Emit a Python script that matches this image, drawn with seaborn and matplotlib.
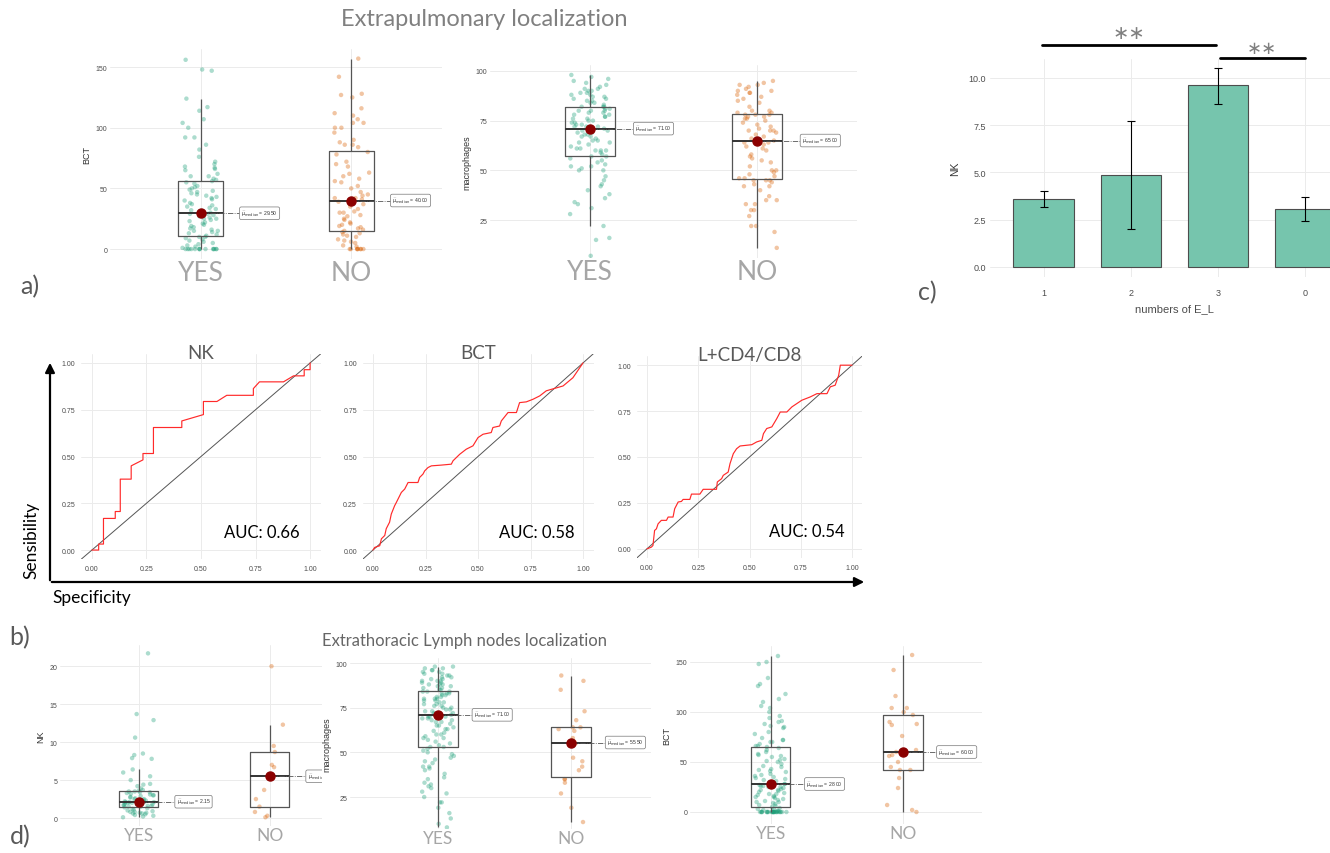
import numpy as np
import pandas as pd
import matplotlib
matplotlib.use("Agg")
import matplotlib.pyplot as plt
import seaborn as sns

# ---------------- data ----------------
# a) Extrapulmonary localization
bct_extra_yes = [0, 0, 0, 0, 0, 0, 0, 0, 0, 0, 0, 0, 0, 0, 1, 2, 3, 4, 5, 6, 7, 8, 9, 10, 10,
                 11, 12, 13, 14, 15, 15, 16, 17, 18, 19, 20, 21, 22, 23, 24, 25, 25, 26, 27, 28, 28, 29, 29, 29, 29,
                 30, 31, 32, 33, 34, 35, 36, 37, 38, 40, 41, 42, 43, 44, 45, 46, 47, 48, 49, 50, 51, 52, 54, 55, 56,
                 57, 58, 60, 60, 62, 65, 66, 67, 68, 70, 72, 76, 82, 86, 92, 92, 100, 104, 107, 114, 117, 124, 147, 148, 156]
bct_extra_no = [0, 0, 0, 0, 0, 0, 0, 0, 2, 3, 5, 6, 7, 8, 10, 11, 12, 13, 14,
                15, 16, 17, 18, 19, 20, 21, 22, 24, 25, 27, 28, 30, 30, 31, 33, 35, 37, 39,
                41, 42, 42, 44, 45, 47, 50, 52, 55, 56, 58, 60, 62, 63, 68, 70, 72, 78, 80,
                84, 86, 86, 88, 90, 96, 100, 100, 104, 104, 107, 110, 112, 116, 125, 127, 128, 142, 157]
mac_extra_yes = [7, 15, 16, 22, 28, 31, 33, 34, 36, 38, 40, 42, 43, 45, 47, 50, 50, 51, 52, 52, 53, 54, 55, 56, 57,
                 57, 58, 59, 60, 60, 60, 61, 61, 62, 63, 64, 64, 65, 65, 66, 67, 67, 68, 68, 69, 69, 70, 70, 70, 71,
                 71, 72, 72, 72, 73, 73, 74, 74, 75, 75, 76, 76, 77, 77, 78, 78, 79, 79, 80, 80, 80, 81, 81, 82, 82,
                 82, 83, 84, 84, 85, 85, 86, 86, 87, 87, 88, 88, 89, 89, 90, 90, 91, 91, 92, 93, 94, 95, 96, 97, 98]
mac_extra_no = [11, 19, 22, 22, 27, 30, 30, 33, 33, 35, 35, 37, 40, 42, 42, 43, 44, 45, 45, 45,
                46, 46, 47, 48, 49, 50, 50, 52, 54, 55, 56, 57, 58, 60, 61, 62, 63, 64, 64, 65,
                65, 66, 67, 68, 69, 70, 70, 70, 71, 72, 73, 74, 75, 76, 76, 77, 77, 78, 78, 78,
                79, 79, 80, 80, 82, 84, 85, 86, 87, 88, 89, 89, 90, 90, 91, 92, 93, 93, 94, 95]

# c) NK by numbers of E_L
el_groups = ["1", "2", "3", "0"]
nk_mean = [3.6, 4.85, 9.6, 3.05]
nk_low = [3.15, 2.0, 8.6, 2.45]
nk_high = [4.0, 7.7, 10.55, 3.7]

# b) ROC curves
nk_spec = [0, 0.031, 0.031, 0.053, 0.053, 0.107, 0.107, 0.130, 0.130, 0.180, 0.180, 0.234, 0.234,
           0.282, 0.282, 0.412, 0.412, 0.511, 0.511, 0.573, 0.618, 0.740, 0.740, 0.768, 0.878,
           0.924, 0.973, 0.973, 1.0, 1.0]
nk_sens = [0, 0, 0.032, 0.032, 0.169, 0.169, 0.206, 0.206, 0.379, 0.379, 0.450, 0.482, 0.516,
           0.516, 0.655, 0.655, 0.690, 0.724, 0.794, 0.794, 0.827, 0.827, 0.863, 0.899, 0.899,
           0.931, 0.931, 0.964, 0.964, 1.0]
bct_spec = [0, 0.008, 0.032, 0.040, 0.056, 0.063, 0.079, 0.087, 0.103, 0.111, 0.135, 0.151, 0.167,
            0.214, 0.222, 0.238, 0.246, 0.262, 0.278, 0.325, 0.373, 0.381, 0.413, 0.444, 0.476,
            0.500, 0.524, 0.563, 0.571, 0.603, 0.611, 0.643, 0.683, 0.698, 0.730, 0.762, 0.794,
            0.825, 0.849, 0.905, 0.952, 1.0]
bct_sens = [0, 0.014, 0.023, 0.060, 0.078, 0.114, 0.149, 0.192, 0.237, 0.254, 0.308, 0.326, 0.361,
            0.361, 0.388, 0.406, 0.423, 0.441, 0.450, 0.454, 0.459, 0.477, 0.512, 0.539, 0.557,
            0.601, 0.619, 0.628, 0.655, 0.663, 0.690, 0.735, 0.735, 0.788, 0.792, 0.806, 0.824,
            0.851, 0.859, 0.877, 0.921, 1.0]
lcd_spec = [0, 0.021, 0.029, 0.037, 0.046, 0.054, 0.070, 0.095, 0.103, 0.127, 0.135, 0.152, 0.168,
            0.176, 0.209, 0.217, 0.258, 0.274, 0.339, 0.343, 0.364, 0.372, 0.396, 0.405, 0.421,
            0.437, 0.454, 0.511, 0.535, 0.560, 0.568, 0.584, 0.609, 0.633, 0.650, 0.682, 0.707,
            0.731, 0.755, 0.796, 0.829, 0.878, 0.894, 0.918, 0.935, 0.943, 1.0]
lcd_sens = [0, 0.009, 0.018, 0.100, 0.109, 0.136, 0.155, 0.155, 0.173, 0.173, 0.218, 0.255, 0.258,
            0.269, 0.269, 0.298, 0.298, 0.324, 0.324, 0.364, 0.382, 0.400, 0.418, 0.464, 0.518,
            0.545, 0.560, 0.567, 0.582, 0.591, 0.627, 0.655, 0.664, 0.709, 0.745, 0.745, 0.773,
            0.791, 0.809, 0.827, 0.845, 0.845, 0.882, 0.891, 0.945, 1.0, 1.0]
auc_values = {"NK": 0.66, "BCT": 0.58, "L+CD4/CD8": 0.54}

# d) Extrathoracic Lymph nodes localization
nk_ln_yes = [0.1, 0.2, 0.3, 0.4, 0.5, 0.6, 0.6, 0.7, 0.7, 0.8, 0.8, 0.9, 1.0, 1.1, 1.2, 1.3, 1.4, 1.5,
             1.5, 1.6, 1.6, 1.7, 1.7, 1.8, 1.8, 1.9, 1.9, 2.0, 2.0, 2.0, 2.1, 2.1, 2.1, 2.1, 2.1, 2.1,
             2.2, 2.3, 2.4, 2.5, 2.5, 2.6, 2.7, 2.8, 2.9, 3.0, 3.0, 3.1, 3.2, 3.3, 3.4, 3.4, 3.5, 3.5,
             3.6, 3.7, 3.9, 4.2, 4.4, 4.5, 5.0, 5.5, 6.0, 6.4, 7.8, 7.9, 8.3, 8.5, 10.6, 12.9, 13.7, 21.7]
nk_ln_no = [0.1, 0.3, 0.8, 1.5, 2.5, 3.7, 5.5, 6.7, 7.0, 8.7, 9.5, 12.3, 20.0]
mac_ln_yes = [8, 10, 13, 16, 19, 22, 22, 25, 27, 28, 30, 31, 32, 33, 35, 36, 38, 40, 41, 42,
              42, 44, 45, 46, 47, 48, 49, 50, 51, 52,
              53, 53, 54, 55, 56, 57, 58, 58, 59, 60, 60, 61, 62, 63, 63, 64, 65, 65, 66, 67,
              67, 68, 68, 69, 69, 70, 70, 70, 71, 71,
              71, 72, 72, 73, 73, 74, 74, 75, 75, 76, 76, 77, 77, 78, 78, 79, 79, 80, 80, 80,
              81, 81, 82, 82, 83, 83, 83, 84, 84, 84,
              85, 85, 86, 86, 87, 87, 88, 88, 88, 89, 89, 90, 90, 90, 91, 91, 92, 92, 93, 93,
              94, 94, 95, 95, 96, 96, 97, 97, 98, 98]
mac_ln_no = [11, 19, 27, 33, 35, 35, 40, 42, 45, 47, 55, 56, 58, 62, 63, 64, 64, 68, 73, 85, 90, 93]
bct_ln_yes = [0, 0, 0, 0, 0, 0, 0, 0, 0, 0, 0, 0, 0, 0, 0, 0, 0, 0, 0, 0, 0, 0, 0, 0, 1, 1, 2, 3, 3, 4,
              5, 6, 7, 8, 9, 10, 10, 11, 12, 13, 14, 15, 15, 16, 17, 18, 18, 19, 20, 21,
              22, 22, 23, 24, 25, 25, 26, 26, 27, 28,
              28, 29, 30, 31, 32, 33, 34, 35, 36, 37, 38, 40, 41, 42, 43, 45, 46, 48, 50, 51,
              52, 53, 55, 56, 57, 58, 60, 62, 64, 65,
              66, 66, 68, 70, 70, 72, 72, 74, 78, 80, 84, 85, 86, 88, 90, 91, 94, 96, 100, 104,
              106, 110, 113, 118, 126, 128, 134, 148, 150, 156]
bct_ln_no = [0, 2, 7, 24, 34, 42, 42, 45, 50, 56, 57, 60, 60, 62, 76, 87, 88, 90, 97, 100,
             104, 104, 116, 142, 157]

# ---------------- style ----------------
sns.set_style("white")
plt.rcParams["font.family"] = ["Liberation Sans", "DejaVu Sans"]
TITLE_FONT = ["Lato", "DejaVu Sans"]
PAL = {"YES": "#1b9e77", "NO": "#d95f02"}
GRID = "#ebebeb"
W, H = 1330, 854

fig = plt.figure(figsize=(W / 100, H / 100), dpi=100)


def px_axes(left, top, right, bottom):
    return fig.add_axes([left / W, 1 - bottom / H, (right - left) / W, (bottom - top) / H])


def clean(ax):
    for s in ax.spines.values():
        s.set_visible(False)
    ax.grid(True, color=GRID, lw=0.7)
    ax.set_axisbelow(True)


def box_panel(ax, yes, no, ylabel, xlim, ylim, yticks, cat_size, label_dx=0.27):
    df = pd.DataFrame({"group": ["YES"] * len(yes) + ["NO"] * len(no),
                       "value": list(yes) + list(no)})
    sns.stripplot(data=df, x="group", y="value", hue="group", order=["YES", "NO"],
                  palette=PAL, jitter=0.12, size=3.2, alpha=0.36, linewidth=0,
                  legend=False, ax=ax, zorder=1)
    sns.boxplot(data=df, x="group", y="value", order=["YES", "NO"], width=0.3,
                fill=False, color="#555555", linewidth=0.9, showfliers=False,
                showcaps=False, whis=1.5,
                medianprops=dict(color="#333333", linewidth=1.4), ax=ax)
    for i, vals in enumerate([yes, no]):
        m = np.median(vals)
        ax.plot([i, i + label_dx], [m, m], ls="-.", color="#555555", lw=0.6, zorder=4)
        ax.plot(i, m, "o", color="#8b0000", ms=6.5, zorder=6)
        ax.text(i + label_dx, m, r"$\widehat{\mu}_{\mathrm{median}}$" + f" = {m:.2f}",
                fontsize=3.6, va="center", ha="left", color="#333333", zorder=5,
                bbox=dict(boxstyle="round,pad=0.35", fc="white", ec="#777777", lw=0.5),
                clip_on=True)
    ax.set_xlim(*xlim)
    ax.set_ylim(*ylim)
    ax.set_yticks(yticks)
    ax.set_xlabel("")
    ax.set_ylabel(ylabel, fontsize=6.5, color="#333333", labelpad=3)
    ax.tick_params(axis="x", labelsize=cat_size, labelcolor="#a6a6a6", length=0, pad=1)
    ax.tick_params(axis="y", labelsize=5, labelcolor="#4d4d4d", length=0, pad=2)
    for lab in ax.get_xticklabels():
        lab.set_fontfamily(TITLE_FONT)
    clean(ax)


def roc_panel(ax, spec, sens, title):
    ax.axline((0, 0), (1, 1), color="#555555", lw=0.7, zorder=2)
    sns.lineplot(x=spec, y=sens, sort=False, estimator=None, color="#ff2a2a",
                 lw=0.85, ax=ax, zorder=3)
    ticks = [0, 0.25, 0.5, 0.75, 1.0]
    ax.set_xlim(-0.05, 1.05)
    ax.set_ylim(-0.05, 1.05)
    ax.set_xticks(ticks, [f"{t:.2f}" for t in ticks])
    ax.set_yticks(ticks, [f"{t:.2f}" for t in ticks])
    ax.tick_params(labelsize=5, labelcolor="#4d4d4d", length=0, pad=4)
    ax.text(0.5, 1.005, title, transform=ax.transAxes, ha="center", va="center",
            fontsize=13.5, color="#595959", family=TITLE_FONT)
    ax.text(0.78, 0.095, f"AUC: {auc_values[title]:.2f}", ha="center", va="center",
            fontsize=12, color="black", family=TITLE_FONT)
    clean(ax)


# ---- a) ----
ax1 = px_axes(110, 50, 442, 260)
box_panel(ax1, bct_extra_yes, bct_extra_no, "BCT", (-0.6, 1.6), (-8.2, 164.9),
          [0, 50, 100, 150], 19)
ax2 = px_axes(490, 66, 857, 259)
box_panel(ax2, mac_extra_yes, mac_extra_no, "macrophages", (-0.6, 1.6), (5.9, 103.0),
          [25, 50, 75, 100], 19)

# ---- c) ----
ax3 = px_axes(990, 60, 1359, 278)
sns.barplot(x=el_groups, y=nk_mean, order=el_groups, color="#76c5ad", saturation=1,
            edgecolor="#4d4d4d", linewidth=0.8, width=0.7, errorbar=None, ax=ax3)
ax3.errorbar(range(len(el_groups)), nk_mean,
             yerr=[np.subtract(nk_mean, nk_low), np.subtract(nk_high, nk_mean)],
             fmt="none", ecolor="black", elinewidth=0.8, capsize=3, capthick=0.8, zorder=5)
ax3.set_xlim(-0.62, 3.62)
ax3.set_ylim(-0.53, 11.0)
ax3.set_yticks([0, 2.5, 5, 7.5, 10], ["0.0", "2.5", "5.0", "7.5", "10.0"])
ax3.tick_params(axis="x", labelsize=6.5, labelcolor="#4d4d4d", length=0, pad=8)
ax3.tick_params(axis="y", labelsize=6.5, labelcolor="#4d4d4d", length=0, pad=3)
ax3.set_xlabel("numbers of E_L", fontsize=8, color="#4d4d4d", labelpad=4)
ax3.set_ylabel("NK", fontsize=7.5, color="#333333", labelpad=6)
clean(ax3)
# significance brackets
ax3.plot([-0.02, 1.98], [11.75, 11.75], color="black", lw=2, clip_on=False)
ax3.plot([2.02, 3.0], [11.06, 11.06], color="black", lw=2, clip_on=False)
ax3.text(0.98, 12.4, "∗∗", ha="center", va="center", fontsize=14, color="#808080",
         family="DejaVu Sans", clip_on=False)
ax3.text(2.5, 11.6, "∗∗", ha="center", va="center", fontsize=13, color="#808080",
         family="DejaVu Sans", clip_on=False)

# ---- b) ----
ax4 = px_axes(81, 354.6, 321, 560.4)
roc_panel(ax4, nk_spec, nk_sens, "NK")
ax5 = px_axes(362.5, 354.6, 593.5, 560.4)
roc_panel(ax5, bct_spec, bct_sens, "BCT")
ax6 = px_axes(636.75, 357, 862.25, 559)
roc_panel(ax6, lcd_spec, lcd_sens, "L+CD4/CD8")

# ---- d) ----
ax7 = px_axes(60, 646, 322, 827)
box_panel(ax7, nk_ln_yes, nk_ln_no, "NK", (-0.6, 1.4), (-1.05, 22.8),
          [0, 5, 10, 15, 20], 12.5, label_dx=0.29)
ax8 = px_axes(350, 659, 651, 830)
box_panel(ax8, mac_ln_yes, mac_ln_no, "macrophages", (-0.66, 1.6), (7.1, 102.8),
          [25, 50, 75, 100], 12.5, label_dx=0.27)
ax9 = px_axes(690, 647, 982, 825)
box_panel(ax9, bct_ln_yes, bct_ln_no, "BCT", (-0.61, 1.6), (-12, 166),
          [0, 50, 100, 150], 12.5, label_dx=0.27)

# ---- overlay: titles, panel letters, arrows ----
ov = fig.add_axes([0, 0, 1, 1])
ov.set_xlim(0, W)
ov.set_ylim(H, 0)
ov.axis("off")
ov.patch.set_alpha(0)
ov.text(484, 20, "Extrapulmonary localization", ha="center", va="center",
        fontsize=17, color="#808080", family=TITLE_FONT)
ov.text(464, 641, "Extrathoracic Lymph nodes localization", ha="center", va="center",
        fontsize=12, color="#666666", family=TITLE_FONT)
for txt, x, y in [("a)", 30, 287), ("b)", 20, 638), ("c)", 927, 293), ("d)", 20, 837)]:
    ov.text(x, y, txt, ha="center", va="center", fontsize=18, color="#595959",
            family=TITLE_FONT)
ov.annotate("", xy=(50, 361), xytext=(50, 584),
            arrowprops=dict(arrowstyle="-|>", lw=1.6, color="black", mutation_scale=14))
ov.annotate("", xy=(867, 583), xytext=(49, 583),
            arrowprops=dict(arrowstyle="-|>", lw=1.6, color="black", mutation_scale=14))
ov.text(31, 540, "Sensibility", rotation=90, ha="center", va="center", fontsize=12.5,
        color="black", family=TITLE_FONT)
ov.text(92, 598, "Specificity", ha="center", va="center", fontsize=12.5, color="black",
        family=TITLE_FONT)

fig.savefig("out.png", dpi=100)
